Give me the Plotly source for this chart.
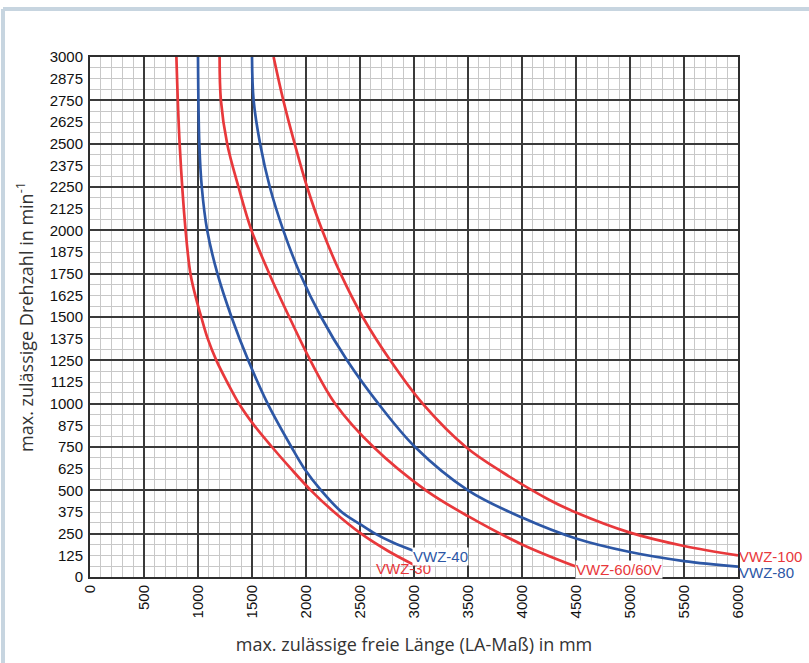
import plotly.graph_objects as go

# ---- data ----
vwz30_x = [800, 830, 885, 930, 985, 1030, 1090, 1170, 1270, 1380, 1520, 1685, 1860, 2045, 2260, 2510, 2760, 3000]
vwz30_y = [3000, 2500, 2000, 1750, 1600, 1500, 1375, 1250, 1125, 1000, 875, 750, 625, 500, 375, 250, 150, 70]

vwz40_x = [1000, 1012, 1035, 1085, 1180, 1310, 1465, 1645, 1865, 1985, 2140, 2330, 2500, 2640, 2800, 3000]
vwz40_y = [3000, 2500, 2250, 2000, 1750, 1500, 1250, 1000, 750, 625, 500, 375, 305, 250, 200, 150]

vwz60_x = [1200, 1212, 1270, 1375, 1495, 1660, 1845, 2040, 2270, 2625, 3110, 3500, 4000, 4500]
vwz60_y = [3000, 2750, 2500, 2250, 2000, 1750, 1500, 1250, 1000, 750, 500, 351, 188, 60]

vwz80_x = [1500, 1515, 1575, 1665, 1790, 1945, 2140, 2380, 2670, 3010, 3500, 4000, 4500, 5000, 5500, 6000]
vwz80_y = [3000, 2750, 2500, 2250, 2000, 1750, 1500, 1250, 1000, 750, 500, 343, 222, 144, 92, 60]

vwz100_x = [1700, 1790, 1895, 2010, 2150, 2320, 2525, 2780, 3080, 3480, 3830, 4250, 4500, 5000, 5500, 6000]
vwz100_y = [3000, 2750, 2500, 2250, 2000, 1750, 1500, 1250, 1000, 750, 600, 446, 372, 256, 179, 125]

series_names = ["VWZ-30", "VWZ-40", "VWZ-60/60V", "VWZ-80", "VWZ-100"]
y_tick_values = list(range(0, 3001, 125))
x_tick_values = list(range(0, 6001, 500))

RED = "#e8383b"
BLUE = "#2d57a5"

series = [
    (series_names[0], vwz30_x, vwz30_y, RED),
    (series_names[1], vwz40_x, vwz40_y, BLUE),
    (series_names[2], vwz60_x, vwz60_y, RED),
    (series_names[3], vwz80_x, vwz80_y, BLUE),
    (series_names[4], vwz100_x, vwz100_y, RED),
]

fig = go.Figure()
for name, xs, ys, col in series:
    fig.add_trace(go.Scatter(
        x=xs, y=ys, name=name, mode="lines",
        line=dict(color=col, width=2.7, shape="spline", smoothing=1.0),
        showlegend=False, hoverinfo="skip",
    ))

# invisible trace for the overlay axis carrying the 125-step labels
fig.add_trace(go.Scatter(x=[0], y=[0], yaxis="y2", mode="markers",
                         marker=dict(opacity=0), showlegend=False, hoverinfo="skip"))

label_font = dict(family="Liberation Sans, Arial, sans-serif", size=15)
# label placement (anchor + shift relative to series end point)
label_style = {
    "VWZ-30": dict(xanchor="center", xshift=-11, yshift=-4, bg="rgba(0,0,0,0)"),
    "VWZ-40": dict(xanchor="left", xshift=-2, yshift=-5, bg="white"),
    "VWZ-60/60V": dict(xanchor="left", xshift=-1, yshift=-3, bg="white"),
    "VWZ-80": dict(xanchor="left", xshift=0, yshift=-6, bg="rgba(0,0,0,0)"),
    "VWZ-100": dict(xanchor="left", xshift=0, yshift=-1, bg="rgba(0,0,0,0)"),
}
for name, xs, ys, col in series:
    st = label_style[name]
    fig.add_annotation(
        x=xs[-1], y=ys[-1], xref="x", yref="y", text=name, showarrow=False,
        xanchor=st["xanchor"], yanchor="middle", xshift=st["xshift"], yshift=st["yshift"],
        font=dict(color=col, **label_font), bgcolor=st["bg"], borderpad=0,
    )

# light frame around the page (top and left edges)
PL, PR, PT, PB = 90, 738, 57, 577
W, H = 809, 663
def px_x(px):
    return (px - PL) / (PR - PL)
def px_y(py):
    return (PB - py) / (PB - PT)
frame_col = "#c7d5e0"
fig.add_shape(type="line", xref="paper", yref="paper", x0=px_x(3), x1=px_x(W + 5), y0=px_y(9), y1=px_y(9),
              line=dict(color=frame_col, width=4))
fig.add_shape(type="line", xref="paper", yref="paper", x0=px_x(3), x1=px_x(3), y0=px_y(9), y1=px_y(H + 5),
              line=dict(color=frame_col, width=4))

tick_font = dict(family="Liberation Sans, Arial, sans-serif", size=15, color="#111111")
title_font = dict(family="Open Sans, sans-serif", size=18, color="#333333")

fig.update_layout(
    width=W, height=H,
    margin=dict(l=PL, r=W - PR, t=PT, b=H - PB, pad=0),
    paper_bgcolor="white", plot_bgcolor="white",
    xaxis=dict(
        range=[0, 6000], tickvals=x_tick_values, tickangle=-90,
        showgrid=True, gridcolor="#3a3a3a", gridwidth=1.6,
        minor=dict(dtick=100, tick0=0, showgrid=True, gridcolor="#c8c8c8", gridwidth=1.2),
        showline=True, linecolor="#2e2e2e", linewidth=2, mirror=True,
        ticks="", zeroline=False, tickfont=tick_font,
        title=dict(text="max. zulässige freie Länge (LA-Maß) in mm", font=title_font, standoff=21),
        fixedrange=True,
    ),
    yaxis=dict(
        range=[0, 3000], dtick=250, tick0=0, showticklabels=False,
        showgrid=True, gridcolor="#3a3a3a", gridwidth=1.6,
        minor=dict(dtick=62.5, tick0=0, showgrid=True, gridcolor="#c8c8c8", gridwidth=1.2),
        showline=True, linecolor="#2e2e2e", linewidth=2, mirror=True,
        ticks="", zeroline=False,
        title=dict(text="max. zulässige Drehzahl in min<sup>-1</sup>", font=title_font, standoff=50),
        fixedrange=True,
    ),
    yaxis2=dict(
        range=[0, 3000], overlaying="y", side="left", tickvals=y_tick_values,
        showgrid=False, zeroline=False, showline=False, ticks="", ticklabelstandoff=6,
        tickfont=tick_font, fixedrange=True,
    ),
)

fig.write_html("out.html", config={"displayModeBar": False},
               post_script="document.body.style.margin='0px';")
